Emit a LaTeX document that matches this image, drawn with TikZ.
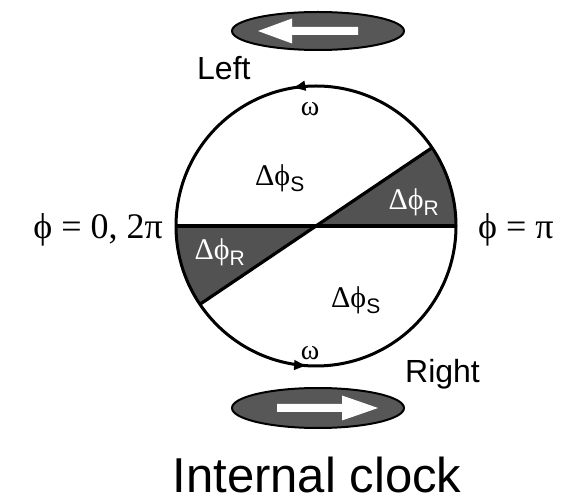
\documentclass[tikz,border=0pt]{standalone}
\usepackage{fontspec}
\setmainfont{Liberation Sans}
\newfontfamily\grk{Liberation Serif}
\usetikzlibrary{arrows.meta,decorations.markings}
\newcommand{\dph}[1]{{\grk Δϕ}\textsubscript{#1}}
\tikzset{
  pad/.style={draw=black, line width=2pt, fill=black!66},
  sector/.style={fill=black!68},
  lbl/.style={inner sep=0pt, font=\fontsize{32}{36}\selectfont},
  grklbl/.style={inner sep=0pt, font=\grk\fontsize{36}{40}\selectfont},
  omg/.style={inner sep=0pt, font=\grk\fontsize{28}{30}\selectfont},
  dlbl/.style={inner sep=0pt, font=\fontsize{30}{34}\selectfont},
}
\begin{document}
\begin{tikzpicture}[x=1pt,y=1pt]
  \useasboundingbox (0,0) rectangle (568,501);
  \coordinate (C) at (316,275);
  % Secteurs
  \fill[sector] (C) -- ++(0:140) arc[start angle=0, end angle=34, radius=140] -- cycle;
  \fill[sector] (C) -- ++(180:140) arc[start angle=180, end angle=214, radius=140] -- cycle;
  % Diametres
  \path (C) ++(180:140) coordinate (W) (C) ++(0:140) coordinate (E);
  \path (C) ++(34:140) coordinate (NE) (C) ++(214:140) coordinate (SW);
  \draw[line width=3.6pt] (W) -- (E);
  \draw[line width=3.2pt] (SW) -- (NE);
  % Cercle
  \draw[line width=3pt, postaction={decorate}, decoration={markings,
      mark=at position 0.278 with {\arrow{Latex[length=14pt,width=11pt]}},
      mark=at position 0.741 with {\arrow{Latex[length=14pt,width=11pt]}}}]
    (C) circle (140);
  % Palettes
  \draw[pad] (318,470) ellipse [x radius=86, y radius=19];
  \fill[white] (258,470) -- (292,482.5) -- (292,474) -- (358,474) -- (358,466)
    -- (292,466) -- (292,457.5) -- cycle;
  \draw[pad] (318,93) ellipse [x radius=86, y radius=20];
  \fill[white] (378,93) -- (342,105.5) -- (342,97) -- (277,97) -- (277,89)
    -- (342,89) -- (342,80.5) -- cycle;
  % Textes
  \node[lbl, anchor=base west] (left) at (197,421) {Left};
  \node[lbl, anchor=base west] (right) at (405,118) {Right};
  \node[inner sep=0pt, anchor=base, font=\fontsize{49}{54}\selectfont] (title) at (317,9) {Internal clock};
  \node[grklbl, anchor=base east] (zero) at (163,262) {ϕ = 0, 2π};
  \node[grklbl, anchor=base west] (half) at (478,262) {ϕ = π};
  \node[omg] (wtop) at (310,392) {ω};
  \node[omg] (wbot) at (310,148) {ω};
  \node[dlbl] (s1) at (280,323) {\dph{S}};
  \node[dlbl] (s2) at (356,201) {\dph{S}};
  \node[dlbl, white] (r1) at (414,299) {\dph{R}};
  \node[dlbl, white] (r2) at (220,249) {\dph{R}};
\end{tikzpicture}
\end{document}
